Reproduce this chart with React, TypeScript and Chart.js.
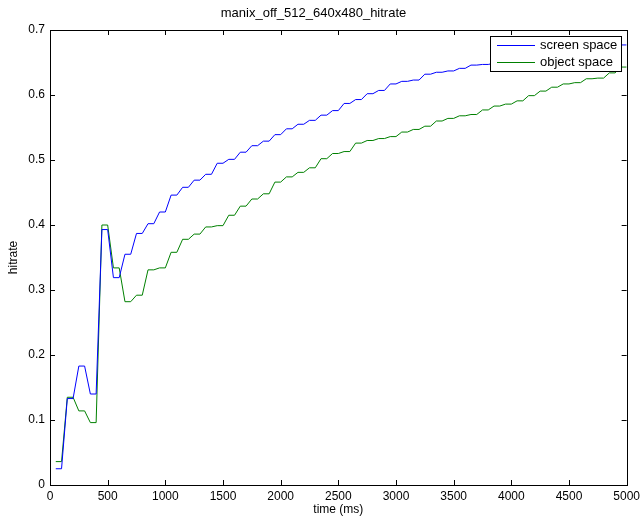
import React, { useEffect, useRef } from 'react';
import { Chart, registerables } from 'chart.js';

Chart.register(...registerables);

const chartTitle = 'manix_off_512_640x480_hitrate';
const xAxisLabel = 'time (ms)';
const yAxisLabel = 'hitrate';
const seriesNames = ['screen space', 'object space'];
const seriesColors = ['#0000ff', '#008000'];

// each value is held for two samples (step start, step start + holdMs)
const stepTimes = [
  50, 150, 250, 350, 450, 550, 650, 750, 850, 950,
  1050, 1150, 1250, 1350, 1450, 1550, 1650, 1750, 1850, 1950,
  2050, 2150, 2250, 2350, 2450, 2550, 2650, 2750, 2850, 2950,
  3050, 3150, 3250, 3350, 3450, 3550, 3650, 3750, 3850, 3950,
  4050, 4150, 4250, 4350, 4450, 4550, 4650, 4750, 4850, 4950,
];
const holdMs = 50;

const screenSpace = [
  0.025, 0.133, 0.183, 0.14, 0.393, 0.319, 0.355, 0.387, 0.402, 0.42,
  0.446, 0.458, 0.469, 0.478, 0.495, 0.501, 0.512, 0.522, 0.529, 0.539,
  0.548, 0.555, 0.561, 0.569, 0.576, 0.587, 0.593, 0.602, 0.607, 0.617,
  0.621, 0.623, 0.632, 0.635, 0.637, 0.641, 0.646, 0.647, 0.649, 0.652,
  0.654, 0.657, 0.659, 0.662, 0.664, 0.667, 0.669, 0.672, 0.674, 0.677,
];

const objectSpace = [
  0.036, 0.135, 0.114, 0.096, 0.4, 0.334, 0.282, 0.292, 0.331, 0.334,
  0.358, 0.378, 0.386, 0.397, 0.399, 0.415, 0.429, 0.44, 0.448, 0.466,
  0.474, 0.481, 0.488, 0.502, 0.51, 0.513, 0.526, 0.53, 0.533, 0.536,
  0.543, 0.547, 0.552, 0.56, 0.564, 0.568, 0.57, 0.577, 0.583, 0.586,
  0.591, 0.599, 0.606, 0.612, 0.617, 0.619, 0.625, 0.626, 0.634, 0.643,
];

const xTickValues = [0, 500, 1000, 1500, 2000, 2500, 3000, 3500, 4000, 4500, 5000];
const xTickLabels = ['0', '500', '1000', '1500', '2000', '2500', '3000', '3500', '4000', '4500', '5000'];
const yTickValues = [0, 0.1, 0.2, 0.3, 0.4, 0.5, 0.6, 0.7];
const yTickLabels = ['0', '0.1', '0.2', '0.3', '0.4', '0.5', '0.6', '0.7'];

const FONT = "'Liberation Sans', Arial, Helvetica, sans-serif";

function buildPoints(values: number[]) {
  const pts: { x: number; y: number }[] = [];
  values.forEach((v, i) => {
    pts.push({ x: stepTimes[i], y: v });
    pts.push({ x: stepTimes[i] + holdMs, y: v });
  });
  return pts;
}

function labelFor(values: number[], labels: string[], value: number) {
  const i = values.findIndex((v) => Math.abs(v - value) < 1e-9);
  return i >= 0 ? labels[i] : '';
}

const framePlugin = {
  id: 'matlabFrame',
  afterDatasetsDraw(chart: any) {
    const { ctx, chartArea } = chart;
    const { left, right, top, bottom } = chartArea;
    const xs = chart.scales.x;
    const ys = chart.scales.y;
    const tickLen = 5;
    ctx.save();
    ctx.strokeStyle = '#000000';
    ctx.lineWidth = 1;
    ctx.beginPath();
    xTickValues.forEach((v) => {
      const px = Math.round(xs.getPixelForValue(v)) + 0.5;
      ctx.moveTo(px, bottom);
      ctx.lineTo(px, bottom - tickLen);
      ctx.moveTo(px, top);
      ctx.lineTo(px, top + tickLen);
    });
    yTickValues.forEach((v) => {
      const py = Math.round(ys.getPixelForValue(v)) + 0.5;
      ctx.moveTo(left, py);
      ctx.lineTo(left + tickLen, py);
      ctx.moveTo(right, py);
      ctx.lineTo(right - tickLen, py);
    });
    ctx.stroke();
    ctx.strokeRect(Math.round(left) + 0.5, Math.round(top) + 0.5, Math.round(right - left), Math.round(bottom - top));

    // legend box inside the axes (north-east)
    const bx = 490.5;
    const by = 36.5;
    const bw = 131;
    const bh = 35;
    ctx.fillStyle = '#ffffff';
    ctx.fillRect(bx, by, bw, bh);
    ctx.strokeStyle = '#000000';
    ctx.strokeRect(bx, by, bw, bh);
    ctx.font = `13px ${FONT}`;
    ctx.textBaseline = 'middle';
    ctx.textAlign = 'left';
    const rows = [45.5, 62.5];
    seriesNames.forEach((name, i) => {
      ctx.strokeStyle = seriesColors[i];
      ctx.beginPath();
      ctx.moveTo(497, rows[i]);
      ctx.lineTo(535, rows[i]);
      ctx.stroke();
      ctx.fillStyle = '#000000';
      ctx.fillText(name, 540, rows[i]);
    });
    ctx.restore();
  },
};

export default function App() {
  const canvasRef = useRef<HTMLCanvasElement | null>(null);

  useEffect(() => {
    document.body.style.margin = '0';
    const canvas = canvasRef.current;
    if (!canvas) return;
    const chart = new Chart(canvas, {
      type: 'line',
      data: {
        datasets: [
          {
            label: seriesNames[0],
            data: buildPoints(screenSpace),
            borderColor: seriesColors[0],
            backgroundColor: seriesColors[0],
            borderWidth: 1,
            pointRadius: 0,
            tension: 0,
            fill: false,
          },
          {
            label: seriesNames[1],
            data: buildPoints(objectSpace),
            borderColor: seriesColors[1],
            backgroundColor: seriesColors[1],
            borderWidth: 1,
            pointRadius: 0,
            tension: 0,
            fill: false,
          },
        ],
      },
      options: {
        responsive: false,
        animation: false,
        events: [],
        layout: { padding: { left: 0, right: 17, top: 0, bottom: 0 } },
        plugins: {
          legend: { display: false },
          tooltip: { enabled: false },
          title: {
            display: true,
            text: chartTitle,
            color: '#000000',
            font: { family: FONT, size: 13, weight: 'normal', lineHeight: 1.2 },
            padding: { top: 6, bottom: 8.4 },
          },
        },
        scales: {
          x: {
            type: 'linear',
            min: 0,
            max: 5000,
            afterFit: (scale: any) => {
              scale.height = 36;
            },
            afterBuildTicks: (scale: any) => {
              scale.ticks = xTickValues.map((v) => ({ value: v }));
            },
            grid: { display: true, drawOnChartArea: false, drawTicks: false },
            border: { display: false },
            ticks: {
              color: '#000000',
              font: { family: FONT, size: 12 },
              padding: 4,
              maxRotation: 0,
              autoSkip: false,
              callback: (value: any) => labelFor(xTickValues, xTickLabels, Number(value)),
            },
            title: {
              display: true,
              text: xAxisLabel,
              color: '#000000',
              font: { family: FONT, size: 12, lineHeight: 1.2 },
              padding: { top: 0, bottom: 4 },
            },
          },
          y: {
            type: 'linear',
            min: 0,
            max: 0.7,
            afterFit: (scale: any) => {
              scale.width = 50;
            },
            afterBuildTicks: (scale: any) => {
              scale.ticks = yTickValues.map((v) => ({ value: v }));
            },
            grid: { display: true, drawOnChartArea: false, drawTicks: false },
            border: { display: false },
            ticks: {
              color: '#000000',
              font: { family: FONT, size: 12 },
              padding: 5,
              autoSkip: false,
              callback: (value: any) => labelFor(yTickValues, yTickLabels, Number(value)),
            },
            title: {
              display: true,
              text: yAxisLabel,
              color: '#000000',
              font: { family: FONT, size: 12, lineHeight: 1.2 },
              padding: { top: 6, bottom: 0 },
            },
          },
        },
      },
      plugins: [framePlugin],
    } as any);
    return () => {
      chart.destroy();
    };
  }, []);

  return (
    <div style={{ width: 644, height: 521, background: '#ffffff' }}>
      <canvas ref={canvasRef} width={644} height={521} style={{ display: 'block' }} />
    </div>
  );
}
